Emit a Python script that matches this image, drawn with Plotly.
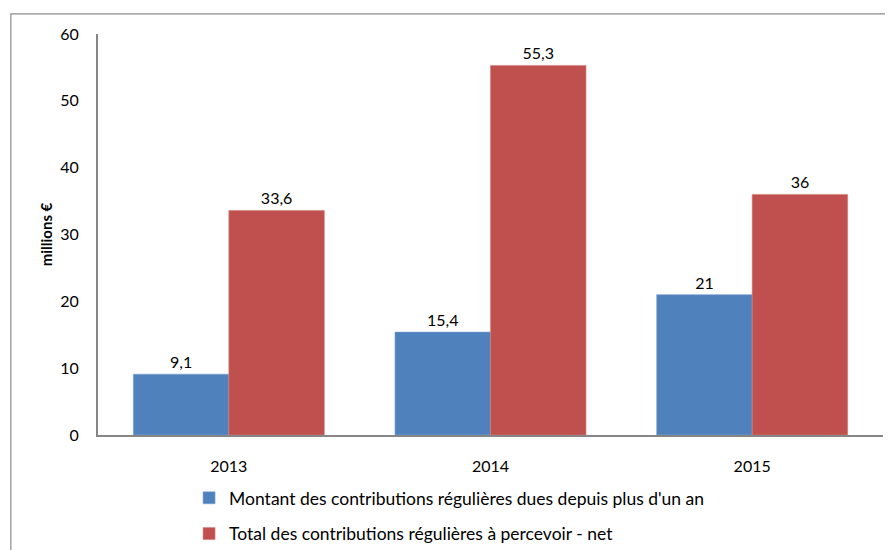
import plotly.graph_objects as go

years = ["2013", "2014", "2015"]
montant = [9.1, 15.4, 21]
total = [33.6, 55.3, 36]
name_montant = "Montant des contributions régulières dues depuis plus d'un an"
name_total = "Total des contributions régulières à percevoir - net"
y_ticks = [0, 10, 20, 30, 40, 50, 60]

def fr(v):
    return f"{v:g}".replace(".", ",")

FONT = "Lato, Open Sans, sans-serif"

fig = go.Figure()
fig.add_trace(go.Bar(
    x=years, y=montant, name=name_montant, legendgroup="a",
    marker=dict(color="#4F81BD", line=dict(color="#7DA1D4", width=0.6)),
    text=[fr(v) for v in montant], textposition="outside", cliponaxis=False,
    textfont=dict(size=16, color="black", family=FONT),
))
fig.add_trace(go.Bar(
    x=years, y=total, name=name_total, legendgroup="b",
    marker=dict(color="#C0504D", line=dict(color="#D47F7D", width=0.6)),
    text=[fr(v) for v in total], textposition="outside", cliponaxis=False,
    textfont=dict(size=16, color="black", family=FONT),
))

fig.update_layout(
    width=893, height=550,
    margin=dict(l=90, r=18, t=26, b=123, autoexpand=False),
    plot_bgcolor="white", paper_bgcolor="white",
    font=dict(family=FONT, size=16, color="black"),
    barmode="group", bargap=0.27, bargroupgap=0,
    showlegend=True,
    legend=dict(orientation="v", x=0.116, xanchor="left", y=-0.112, yanchor="top",
                tracegroupgap=10, font=dict(size=17.5), itemwidth=30,
                traceorder="grouped"),
    xaxis=dict(showline=True, linecolor="#868686", linewidth=2, ticks="",
               ticklabelstandoff=16, showgrid=False, automargin=False),
    yaxis=dict(range=[0, 60], tickvals=y_ticks, showline=True, linecolor="#868686",
               linewidth=2, showgrid=False, zeroline=False, ticks="",
               ticklabelstandoff=14, automargin=False,
               title=dict(text="<b>millions €</b>", font=dict(size=15), standoff=4)),
    shapes=[dict(type="rect", xref="paper", yref="paper", x0=-0.111, x1=1.2,
                 y0=-0.6, y1=1.05, line=dict(color="#8C8C8C", width=1.2),
                 fillcolor="rgba(0,0,0,0)", layer="below")],
)

fig.write_html("out.html")
